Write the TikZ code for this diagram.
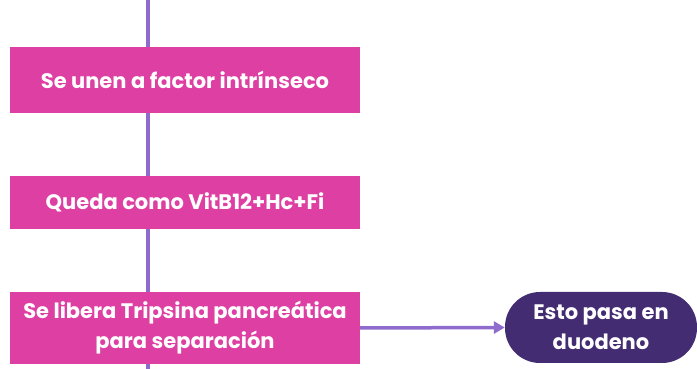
\documentclass[tikz,border=0pt]{standalone}
\usepackage{fontspec}
\setmainfont{Poppins}
\usetikzlibrary{arrows.meta}
\definecolor{rosa}{HTML}{DD3FA3}
\definecolor{viola}{HTML}{432C72}
\definecolor{linea}{HTML}{8E6BCC}
\tikzset{
  passo/.style={fill=rosa, text=white, font=\bfseries\fontsize{21}{30}\selectfont,
    minimum width=350pt, align=center, inner sep=0pt},
  fine/.style={fill=viola, text=white, font=\bfseries\fontsize{21}{30}\selectfont,
    minimum width=192pt, minimum height=71pt, rounded corners=35pt, align=center, inner sep=0pt},
  filo/.style={draw=linea, line width=3.5pt}
}
\begin{document}
\begin{tikzpicture}[x=1pt,y=1pt]
\useasboundingbox (0,0) rectangle (697,369);
\clip (0,0) rectangle (697,369);

\node[passo, minimum height=66pt] (unen) at (185,289) {Se unen a factor intrínseco};
\node[passo, minimum height=53pt] (queda) at (185,166.5) {Queda como VitB12+Hc+Fi};
\node[passo, minimum height=72pt] (libera) at (185,41) {Se libera Tripsina pancreática\\para separación};
\node[fine] (duodeno) at (601,41.5) {Esto pasa en\\duodeno};

\coordinate (cima) at (148,369);
\coordinate (fondo) at (148,0);

\draw[filo] (cima) -- (unen.north -| cima);
\draw[filo] (unen.south -| cima) -- (queda.north -| cima);
\draw[filo] (queda.south -| cima) -- (libera.north -| cima);
\draw[filo] (libera.south -| fondo) -- (fondo);

\draw[filo, -{Triangle[length=11pt,width=12pt]}] (libera.east) -- (duodeno.west);
\end{tikzpicture}
\end{document}
